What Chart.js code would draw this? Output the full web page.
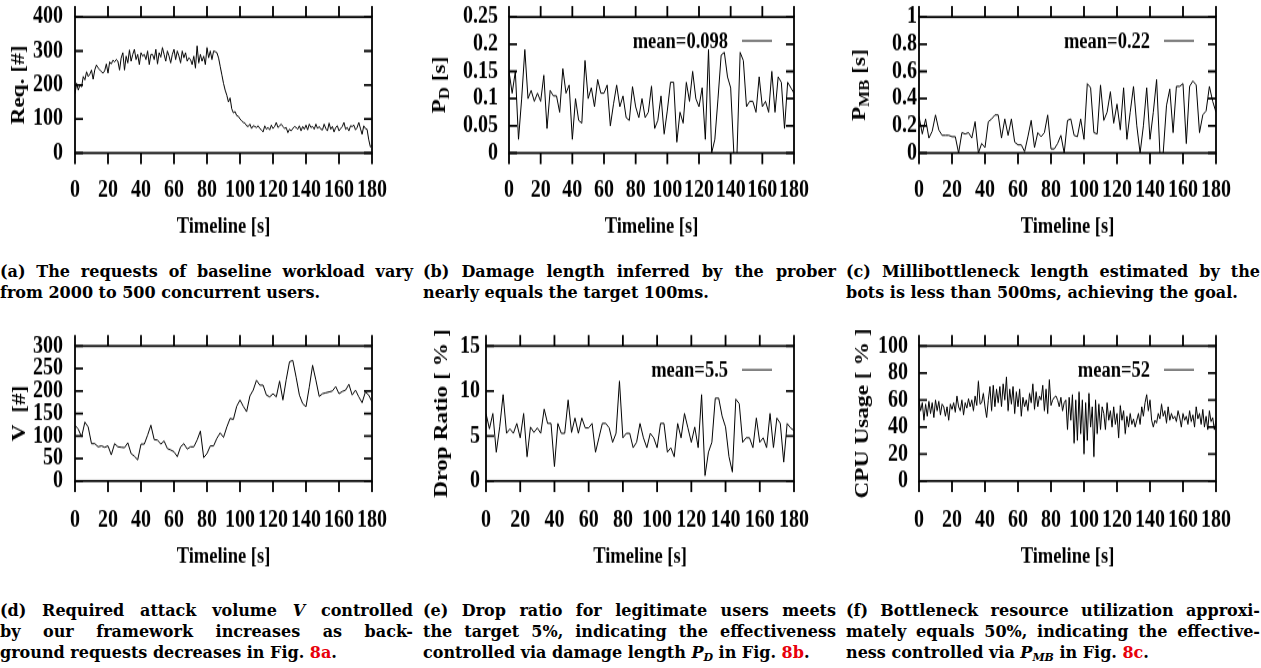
<!DOCTYPE html>
<html>
<head>
<meta charset="utf-8">
<script src="https://cdn.jsdelivr.net/npm/chart.js@4.4.0/dist/chart.umd.min.js"></script>
<style>
body { margin: 0; background: #fff; width: 1261px; height: 668px; position: relative; overflow: hidden; }
canvas { position: absolute; transform: scaleY(1.2); transform-origin: 0 0; }
.cap { position: absolute; font: bold 16px "DejaVu Serif"; line-height: 21px; white-space: nowrap; color: #000; }
.cap i { font-style: italic; }
.cap sub { font-size: 11px; vertical-align: -3px; line-height: 0; }
.red { color: #e8000b; }
</style>
</head>
<body>
<canvas id="pa" width="400" height="204" style="left:0;top:0"></canvas>
<canvas id="pb" width="400" height="204" style="left:420px;top:0"></canvas>
<canvas id="pc" width="421" height="204" style="left:840px;top:0"></canvas>
<canvas id="pd" width="400" height="204" style="left:0;top:330px"></canvas>
<canvas id="pe" width="400" height="204" style="left:420px;top:330px"></canvas>
<canvas id="pf" width="421" height="204" style="left:840px;top:330px"></canvas>

<div class="cap j" data-w="413" style="left:0;top:261px"><span>(a) The requests of baseline workload vary</span></div>
<div class="cap" data-w="413" style="left:0;top:282px"><span>from 2000 to 500 concurrent users.</span></div>
<div class="cap j" data-w="413" style="left:423px;top:261px"><span>(b) Damage length inferred by the prober</span></div>
<div class="cap" data-w="413" style="left:423px;top:282px"><span>nearly equals the target 100ms.</span></div>
<div class="cap j" data-w="414" style="left:846px;top:261px"><span>(c) Millibottleneck length estimated by the</span></div>
<div class="cap" data-w="414" style="left:846px;top:282px"><span>bots is less than 500ms, achieving the goal.</span></div>

<div class="cap j" data-w="413" style="left:0;top:600px"><span>(d) Required attack volume <i>V</i> controlled</span></div>
<div class="cap j" data-w="413" style="left:0;top:621px"><span>by our framework increases as back-</span></div>
<div class="cap" data-w="413" style="left:0;top:642px"><span>ground requests decreases in Fig. <span class="red">8a</span>.</span></div>
<div class="cap j" data-w="413" style="left:423px;top:600px"><span>(e) Drop ratio for legitimate users meets</span></div>
<div class="cap j" data-w="413" style="left:423px;top:621px"><span>the target 5%, indicating the effectiveness</span></div>
<div class="cap" data-w="413" style="left:423px;top:642px"><span>controlled via damage length <i>P<sub>D</sub></i> in Fig. <span class="red">8b</span>.</span></div>
<div class="cap j" data-w="414" style="left:846px;top:600px"><span>(f) Bottleneck resource utilization approxi-</span></div>
<div class="cap j" data-w="414" style="left:846px;top:621px"><span>mately equals 50%, indicating the effective-</span></div>
<div class="cap" data-w="414" style="left:846px;top:642px"><span>ness controlled via <i>P<sub>MB</sub></i> in Fig. <span class="red">8c</span>.</span></div>

<script>
// sample times (s)
const secs1 = [
  0,1,2,3,4,5,6,7,8,9,10,11,12,13,14,15,16,17,18,19,
  20,21,22,23,24,25,26,27,28,29,30,31,32,33,34,35,36,37,38,39,
  40,41,42,43,44,45,46,47,48,49,50,51,52,53,54,55,56,57,58,59,
  60,61,62,63,64,65,66,67,68,69,70,71,72,73,74,75,76,77,78,79,
  80,81,82,83,84,85,86,87,88,89,90,91,92,93,94,95,96,97,98,99,
  100,101,102,103,104,105,106,107,108,109,110,111,112,113,114,115,116,117,118,119,
  120,121,122,123,124,125,126,127,128,129,130,131,132,133,134,135,136,137,138,139,
  140,141,142,143,144,145,146,147,148,149,150,151,152,153,154,155,156,157,158,159,
  160,161,162,163,164,165,166,167,168,169,170,171,172,173,174,175,176,177,178,179,
  180
];
const secs2 = [
  0,2,4,6,8,10,12,14,16,18,20,22,24,26,28,30,32,34,36,38,
  40,42,44,46,48,50,52,54,56,58,60,62,64,66,68,70,72,74,76,78,
  80,82,84,86,88,90,92,94,96,98,100,102,104,106,108,110,112,114,116,118,
  120,122,124,126,128,130,132,134,136,138,140,142,144,146,148,150,152,154,156,158,
  160,162,164,166,168,170,172,174,176,178,180
];

// (a) requests [#], one per second
const reqCount = [
  175,205,185,200,195,225,215,239,225,232,
  244,217,245,259,250,245,239,235,242,262,
  235,268,262,273,268,275,270,244,280,295,
  244,285,265,303,270,290,305,275,290,260,
  295,285,290,275,300,260,290,290,275,305,
  262,295,282,310,290,270,300,285,265,290,
  305,275,300,285,265,300,280,295,270,280,
  275,260,285,250,315,265,290,270,285,260,
  310,280,300,275,300,298,295,280,255,230,
  205,185,170,150,162,130,118,122,110,108,
  100,95,90,88,80,78,85,72,80,78,
  75,80,72,68,62,80,70,75,68,82,
  72,78,90,75,80,85,78,72,75,60,
  70,65,72,78,75,70,80,65,78,70,
  82,68,85,75,78,70,85,72,78,70,
  68,85,72,65,88,70,78,62,75,80,
  65,72,78,90,70,75,65,80,78,82,
  68,75,90,72,55,80,72,70,40,18,
  22
];

// (b) damage length P_D [s], every 2 s
const damageLen = [
  0.15,0.11,0.15,0.025,0.1,0.19,0.1,0.115,0.095,0.11,
  0.095,0.143,0.045,0.115,0.105,0.105,0.075,0.155,0.11,0.125,
  0.025,0.1,0.06,0.055,0.17,0.1,0.12,0.085,0.135,0.11,
  0.11,0.125,0.05,0.09,0.125,0.085,0.105,0.065,0.06,0.122,
  0.085,0.065,0.1,0.065,0.075,0.123,0.045,0.06,0.105,0.035,
  0.078,0.13,0.13,0.02,0.075,0.055,0.13,0.095,0.15,0.1,
  0.085,0.12,0.025,0.19,0,0.025,0.1,0.18,0.185,0.14,
  0.12,0,0,0.185,0.17,0.085,0.095,0.095,0.075,0.14,
  0.085,0.095,0.075,0.15,0.075,0.14,0.13,0.045,0.13,0.12,
  0.11
];

// (c) millibottleneck length P_MB [s], every 2 s
const mbLen = [
  0.27,0.14,0.25,0.11,0.16,0.28,0.17,0.13,0.13,0.13,
  0.12,0.12,0,0.15,0.14,0.15,0.11,0.23,0,0.07,
  0.04,0.23,0.25,0.28,0.28,0.11,0.25,0.13,0.25,0.08,
  0.06,0.06,0.01,0.12,0.24,0.04,0.15,0.12,0.15,0.28,
  0.03,0.03,0.07,0.13,0,0.24,0.25,0.13,0.12,0.25,
  0.1,0.51,0.48,0.15,0.14,0.5,0.24,0.3,0.45,0.22,
  0.36,0.17,0.48,0.1,0.3,0.49,0.2,0,0.2,0.48,
  0.1,0.3,0.54,0,0,0.35,0.47,0.15,0.49,0.49,
  0.51,0.07,0.49,0.53,0.5,0.15,0.28,0.31,0.49,0.38,
  0.3
];

// (d) attack volume V [#], every 2 s
const attackVol = [
  124,115,98,131,120,83,83,76,78,75,
  78,58,83,76,75,74,85,61,55,47,
  82,82,102,124,92,91,82,89,72,69,
  65,54,76,83,71,76,76,91,111,52,
  61,78,78,95,107,97,120,139,137,166,
  180,166,154,189,202,224,213,213,191,187,
  194,187,222,180,225,265,268,231,191,172,
  165,209,257,224,188,194,196,198,200,210,
  194,199,202,215,191,202,187,174,198,191,
  176
];

// (e) drop ratio [%], every 2 s
const dropRatio = [
  7.5,5.8,7.5,3.2,6,9.6,5.3,5.8,5.3,6.4,
  4.8,7.5,2.7,6,5.4,5.9,5.3,8,6.4,6.4,
  1.6,6.4,5.3,5.3,9,5.4,7,5.3,7,5.9,
  5.9,6.4,3.2,4.8,6.4,6.4,5.9,4.3,5.3,11.1,
  4.8,5.3,5.3,3.7,4.3,6.4,4.8,3.7,5.3,4.8,
  3.7,6.4,6.4,3.2,3.7,2.7,6.4,4.8,7.5,5.9,
  4.3,6,3.7,9.6,0.6,3.2,4.3,9.2,9.2,7.2,
  6,2.7,1,9.1,8.6,4.3,4.8,4.8,3.7,7,
  4.3,4.8,3.7,7.5,3.7,7,6.4,2.1,6.4,5.9,
  5.6
];

// (f) cpu usage [%], one per second
const cpuUsage = [
  60,52,58,45,57,48,59,50,58,47,60,52,59,49,57,55,
  48,55,45,57,53,58,51,63,55,52,60,49,58,54,61,
  55,60,52,63,56,74,57,58,65,55,
  47,60,70,52,71,55,68,58,70,55,
  72,60,77,52,68,57,70,50,66,55,
  68,48,62,55,60,52,65,58,72,53,
  66,55,63,60,71,52,68,50,75,56,
  60,62,63,60,55,62,52,58,
  60,38,62,45,64,28,60,30,66,35,60,20,58,30,65,40,55,18,60,35,57,38,55,
  50,38,58,45,52,40,55,42,50,32,56,45,52,35,48,40,50,42,46,40,
  45,50,42,55,48,58,64,52,60,45,
  40,45,43,50,46,57,48,52,43,55,45,50,46,48,44,52,47,40,50,45,
  48,42,52,44,49,40,55,46,50,42,53,40,48,38,52,44,47,38,45
];

// tick labels
const xTicks = [0, 20, 40, 60, 80, 100, 120, 140, 160, 180];
const yTicksA = [0, 100, 200, 300, 400];
const yTicksB = [0, 0.05, 0.1, 0.15, 0.2, 0.25];
const yTicksC = [0, 0.2, 0.4, 0.6, 0.8, 1];
const yTicksD = [0, 50, 100, 150, 200, 250, 300];
const yTicksE = [0, 5, 10, 15];
const yTicksF = [0, 20, 40, 60, 80, 100];

Chart.defaults.font.family = '"Liberation Serif", "Times New Roman", serif';
Chart.defaults.color = '#000';

const FONT = '"Liberation Serif", serif';
const S = 1.2;   // the gnuplot figure is stretched vertically; canvases get scaleY(S)
const H = 204;   // canvas height before stretch

// gnuplot-like frame: box, outward x ticks, inward y ticks, y title, key
const frame = {
  id: 'frame',
  afterDatasetsDraw(chart, args, opts) {
    const {ctx, chartArea: a, scales: {x, y}} = chart;
    ctx.save();
    ctx.strokeStyle = '#000';
    ctx.lineWidth = 1.8;
    ctx.strokeRect(a.left, a.top, a.right - a.left, a.bottom - a.top);
    ctx.beginPath();
    x.ticks.forEach(t => {
      const px = x.getPixelForValue(t.value);
      ctx.moveTo(px, a.bottom); ctx.lineTo(px, a.bottom + 11 / S);
      ctx.moveTo(px, a.top); ctx.lineTo(px, a.top - 11 / S);
    });
    y.ticks.forEach(t => {
      const py = y.getPixelForValue(t.value);
      ctx.moveTo(a.left, py); ctx.lineTo(a.left + 8, py);
      ctx.moveTo(a.right, py); ctx.lineTo(a.right - 8, py);
    });
    ctx.stroke();

    // y title, rotated, with optional subscript part
    const main = 'bold 19.5px ' + FONT, sub = 'bold 14px ' + FONT;
    let total = 0;
    opts.yTitle.forEach(p => { ctx.font = p[1] ? sub : main; total += ctx.measureText(p[0]).width; });
    ctx.translate(opts.titleX, (a.top + a.bottom) / 2);
    ctx.rotate(-Math.PI / 2);
    ctx.fillStyle = '#000';
    ctx.textBaseline = 'middle';
    ctx.textAlign = 'left';
    let cx = -total / 2;
    opts.yTitle.forEach(p => {
      ctx.font = p[1] ? sub : main;
      ctx.fillText(p[0], cx, p[1] ? 5 : 0);
      cx += ctx.measureText(p[0]).width;
    });
    ctx.setTransform(1, 0, 0, 1, 0, 0);

    // key
    if (opts.key) {
      const ky = a.top + 25 / S;
      ctx.font = 'bold 18.5px ' + FONT;
      ctx.textAlign = 'right';
      ctx.textBaseline = 'middle';
      ctx.fillText(opts.key, a.right - 66, ky);
      ctx.lineWidth = 1;
      ctx.beginPath();
      ctx.moveTo(a.right - 52, ky - 1);
      ctx.lineTo(a.right - 22, ky - 1);
      ctx.stroke();
    }
    ctx.restore();
  }
};

function makePanel(id, o) {
  const top = o.top / S, bottom = o.bottom / S;
  const xh = H - bottom;
  const labPad = o.labOff / S - 12;
  const titlePad = H - (o.bottom + o.titleOff) / S - 11.1;
  return new Chart(document.getElementById(id), {
    type: 'line',
    data: {
      datasets: [{
        data: o.xs.map((t, i) => ({x: t, y: o.ys[i]})),
        borderColor: '#000',
        borderWidth: 1,
        pointRadius: 0,
        tension: 0,
        fill: false
      }]
    },
    options: {
      responsive: false,
      animation: false,
      events: [],
      layout: { padding: { left: 0, top: top, right: o.right, bottom: 0 } },
      plugins: {
        legend: { display: false },
        tooltip: { enabled: false },
        frame: { yTitle: o.yTitle, titleX: o.titleX, key: o.key }
      },
      scales: {
        x: {
          type: 'linear', min: 0, max: 180,
          afterBuildTicks: s => { s.ticks = xTicks.map(v => ({value: v})); },
          afterFit: s => { s.height = xh; s.paddingLeft = 0; s.paddingRight = 0; },
          grid: { display: false, drawTicks: false },
          border: { display: false },
          ticks: { padding: labPad, autoSkip: false, maxRotation: 0, font: { size: 20, weight: 'bold' }, callback: v => String(v) },
          title: { display: true, text: 'Timeline [s]', font: { size: 18.5, weight: 'bold' }, padding: { top: 0, bottom: titlePad } }
        },
        y: {
          type: 'linear', min: o.yt[0], max: o.yt[o.yt.length - 1],
          afterBuildTicks: s => { s.ticks = o.yt.map(v => ({value: v})); },
          afterFit: s => { s.width = o.yw; s.paddingTop = 0; s.paddingBottom = 0; },
          grid: { display: false, drawTicks: false },
          border: { display: false },
          ticks: { padding: o.lp, autoSkip: false, font: { size: 20, weight: 'bold' }, callback: v => String(v) }
        }
      }
    },
    plugins: [frame]
  });
}

const row1 = { top: 17, bottom: 153, labOff: 37, titleOff: 74 };
const row2 = { top: 16, bottom: 151, labOff: 39, titleOff: 76 };

makePanel('pa', Object.assign({ xs: secs1, ys: reqCount, yt: yTicksA, right: 28, yw: 75, lp: 12, titleX: 19,
  yTitle: [['Req. [#]', false]] }, row1));
makePanel('pb', Object.assign({ xs: secs2, ys: damageLen, yt: yTicksB, right: 26, yw: 89, lp: 11, titleX: 20,
  yTitle: [['P', false], ['D', true], [' [s]', false]], key: 'mean=0.098' }, row1));
makePanel('pc', Object.assign({ xs: secs2, ys: mbLen, yt: yTicksC, right: 45, yw: 79, lp: 2, titleX: 20,
  yTitle: [['P', false], ['MB', true], [' [s]', false]], key: 'mean=0.22' }, row1));
makePanel('pd', Object.assign({ xs: secs2, ys: attackVol, yt: yTicksD, right: 28, yw: 75, lp: 12, titleX: 20,
  yTitle: [['V  [#]', false]] }, row2));
makePanel('pe', Object.assign({ xs: secs2, ys: dropRatio, yt: yTicksE, right: 26, yw: 66, lp: 6, titleX: 22,
  yTitle: [['Drop Ratio [ % ]', false]], key: 'mean=5.5' }, row2));
makePanel('pf', Object.assign({ xs: secs1, ys: cpuUsage, yt: yTicksF, right: 45, yw: 79, lp: 11, titleX: 23,
  yTitle: [['CPU Usage [ % ]', false]], key: 'mean=52' }, row2));

// justify caption lines to their column width
document.querySelectorAll('.cap').forEach(el => {
  const w = parseFloat(el.dataset.w);
  const span = el.firstElementChild;
  const natural = span.getBoundingClientRect().width;
  const spaces = (span.textContent.match(/ /g) || []).length;
  if (!spaces) return;
  if (el.classList.contains('j') || natural > w) {
    el.style.wordSpacing = ((w - natural) / spaces) + 'px';
  }
});
</script>
</body>
</html>
